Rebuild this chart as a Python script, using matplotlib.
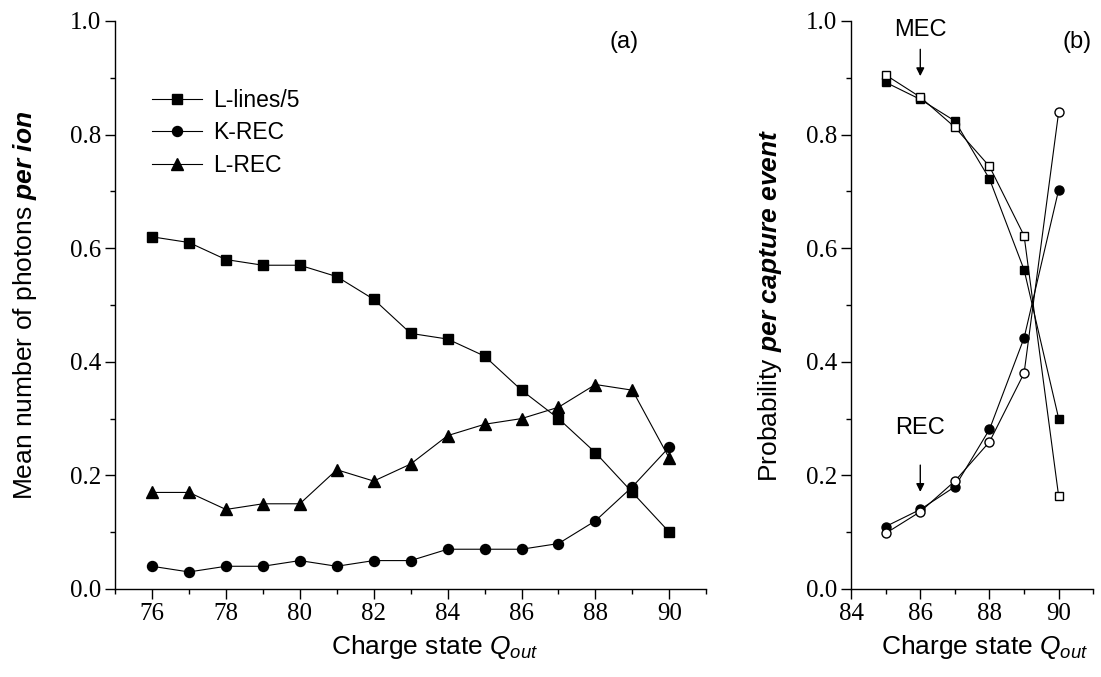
import matplotlib
matplotlib.use("Agg")
import matplotlib.pyplot as plt
from matplotlib.ticker import MultipleLocator

plt.rcParams['font.family'] = ['Liberation Sans', 'DejaVu Sans']
plt.rcParams['mathtext.fontset'] = 'custom'
plt.rcParams['mathtext.rm'] = 'Liberation Sans'
plt.rcParams['mathtext.it'] = 'Liberation Sans:italic'
plt.rcParams['mathtext.bf'] = 'Liberation Sans:bold'
plt.rcParams['mathtext.bfit'] = 'Liberation Sans:italic:bold'

# Panel (a) data
q_a = [76, 77, 78, 79, 80, 81, 82, 83, 84, 85, 86, 87, 88, 89, 90]
l_lines = [0.62, 0.61, 0.58, 0.57, 0.57, 0.55, 0.51, 0.45, 0.44, 0.41, 0.35, 0.30, 0.24, 0.17, 0.10]
k_rec = [0.04, 0.03, 0.04, 0.04, 0.05, 0.04, 0.05, 0.05, 0.07, 0.07, 0.07, 0.08, 0.12, 0.18, 0.25]
l_rec = [0.17, 0.17, 0.14, 0.15, 0.15, 0.21, 0.19, 0.22, 0.27, 0.29, 0.30, 0.32, 0.36, 0.35, 0.23]

# Panel (b) data
q_b = [85, 86, 87, 88, 89, 90]
mec_filled = [0.892, 0.862, 0.824, 0.722, 0.562, 0.300]
mec_open = [0.905, 0.866, 0.813, 0.744, 0.622, 0.163]
rec_filled = [0.110, 0.140, 0.180, 0.281, 0.442, 0.703]
rec_open = [0.098, 0.136, 0.190, 0.259, 0.380, 0.840]

# Tick labels
yticks = [0.0, 0.2, 0.4, 0.6, 0.8, 1.0]
ytick_labels = ['0.0', '0.2', '0.4', '0.6', '0.8', '1.0']
xticks_a = [76, 78, 80, 82, 84, 86, 88, 90]
xticks_b = [84, 86, 88, 90]

fig = plt.figure(figsize=(11.01, 6.77), dpi=100)
ax1 = fig.add_axes([0.1045, 0.130, 0.537, 0.839])
ax2 = fig.add_axes([0.773, 0.130, 0.220, 0.839])

lw = 0.8
ax1.plot(q_a, l_lines, color='black', lw=lw, marker='s', ms=6.5, label='L-lines/5')
ax1.plot(q_a, k_rec, color='black', lw=lw, marker='o', ms=7.2, label='K-REC')
ax1.plot(q_a, l_rec, color='black', lw=lw, marker='^', ms=8.5, label='L-REC')

ax2.plot(q_b, mec_filled, color='black', lw=lw, marker='s', ms=6, mfc='black')
ax2.plot(q_b, mec_open, color='black', lw=lw, marker='s', ms=6, mfc='white')
ax2.plot(q_b, rec_filled, color='black', lw=lw, marker='o', ms=6.5, mfc='black')
ax2.plot(q_b, rec_open, color='black', lw=lw, marker='o', ms=6.5, mfc='white')

tickfont = dict(family='Liberation Serif', size=18)
for ax, xt in ((ax1, xticks_a), (ax2, xticks_b)):
    ax.set_ylim(0, 1.0)
    ax.spines['top'].set_visible(False)
    ax.spines['right'].set_visible(False)
    ax.set_yticks(yticks)
    ax.set_yticklabels(ytick_labels, fontdict=tickfont)
    ax.set_xticks(xt)
    ax.set_xticklabels([str(v) for v in xt], fontdict=tickfont)
    ax.yaxis.set_minor_locator(MultipleLocator(0.1))
    ax.xaxis.set_minor_locator(MultipleLocator(1))
    ax.tick_params(which='major', direction='out', length=7, width=1.0, pad=3)
    ax.tick_params(which='minor', direction='out', length=3.5, width=1.0)
    for sp in ('left', 'bottom'):
        ax.spines[sp].set_linewidth(1.0)

ax1.set_xlim(75, 91)
ax2.set_xlim(84, 91)

ax1.set_xlabel(r'Charge state $Q_{out}$', fontsize=19, labelpad=6, x=0.54)
ax2.set_xlabel(r'Charge state $Q_{out}$', fontsize=19, labelpad=6, x=0.55)
ax1.set_ylabel(r'Mean number of photons $\mathbfit{per\ ion}$', fontsize=19, labelpad=22)
ax2.set_ylabel(r'Probability $\mathbfit{per\ capture\ event}$', fontsize=19, labelpad=16)

leg = ax1.legend(loc='upper left', bbox_to_anchor=(0.047, 0.897), frameon=False,
                 fontsize=16.5, handlelength=2.2, handletextpad=0.45, labelspacing=0.42,
                 borderaxespad=0)

ax1.text(0.861, 0.963, '(a)', transform=ax1.transAxes, fontsize=17, ha='center', va='center')
ax2.text(0.934, 0.963, '(b)', transform=ax2.transAxes, fontsize=17, ha='center', va='center')

ax2.annotate('', xy=(86, 0.898), xytext=(86, 0.955),
             arrowprops=dict(arrowstyle='-|>', color='black', lw=1.0, mutation_scale=12))
ax2.text(86, 0.985, 'MEC', fontsize=17, ha='center', va='center')
ax2.annotate('', xy=(86, 0.166), xytext=(86, 0.223),
             arrowprops=dict(arrowstyle='-|>', color='black', lw=1.0, mutation_scale=12))
ax2.text(86, 0.283, 'REC', fontsize=17, ha='center', va='center')

fig.savefig('out.png', dpi=100)
